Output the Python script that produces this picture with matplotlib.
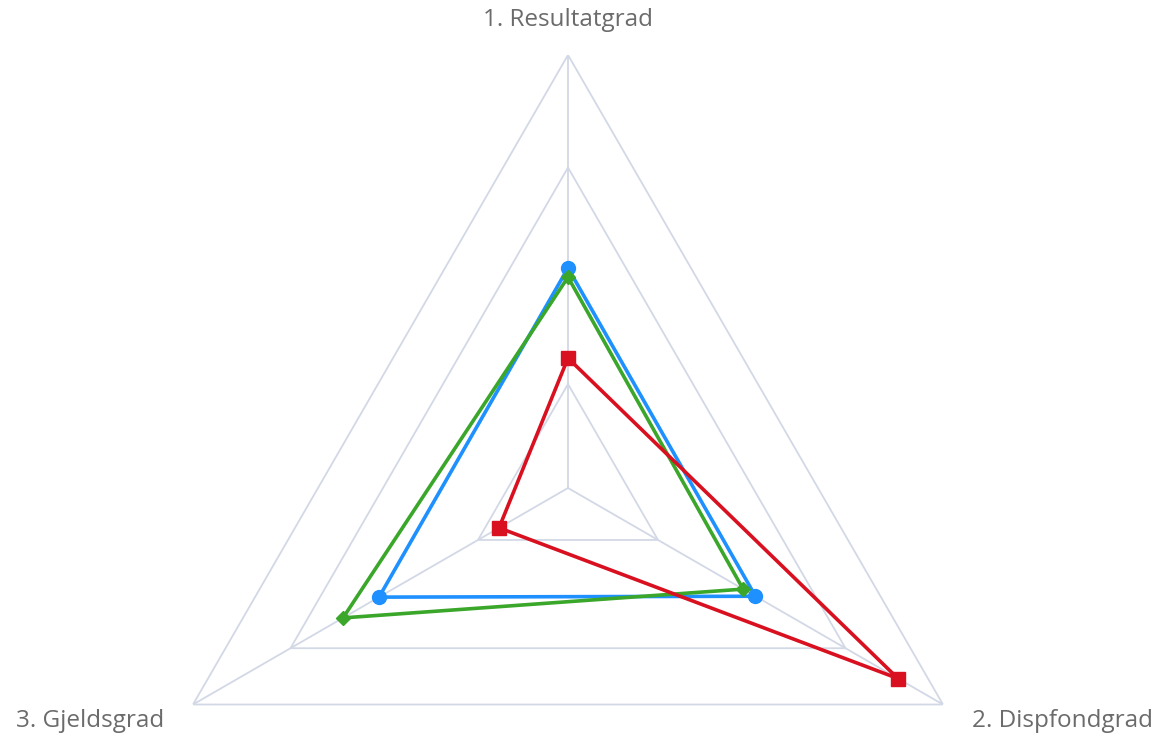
import numpy as np
import matplotlib.pyplot as plt

# axes and series (fraction of the outer ring)
labels = ['1. Resultatgrad', '2. Dispfondgrad', '3. Gjeldsgrad']
blue = [0.508, 0.50, 0.504]
green = [0.487, 0.467, 0.60]
red = [0.30, 0.88, 0.184]
grid_levels = [0.24, 0.74, 1.0]

angles = np.linspace(0, 2 * np.pi, len(labels), endpoint=False)

fig = plt.figure(figsize=(11.58, 7.37), dpi=100)
W, H = 1158, 737
cx, cy, R = 568, 488, 433
ax = fig.add_axes([(cx - R) / W, (H - cy - R) / H, 2 * R / W, 2 * R / H],
                  projection='polar')
ax.set_theta_offset(np.pi / 2)
ax.set_theta_direction(-1)
ax.set_ylim(0, 1)
ax.grid(False)
ax.set_xticks([])
ax.set_yticks([])
ax.spines['polar'].set_visible(False)
ax.patch.set_alpha(0)

grid_col = '#d3d8e6'
closed = np.append(angles, angles[0])
for lv in grid_levels:
    ax.plot(closed, [lv] * 4, color=grid_col, lw=1.3, zorder=1)
for a in angles:
    ax.plot([a, a], [0, 1], color=grid_col, lw=1.3, zorder=1)


def series(vals, color, marker, ms):
    v = list(vals) + [vals[0]]
    ax.plot(closed, v, color=color, lw=2.6, marker=marker, ms=ms,
            markevery=[0, 1, 2], zorder=3, clip_on=False)


series(blue, '#1e90ff', 'o', 10)
series(green, '#3aa62a', 'D', 7)
series(red, '#d9101f', 's', 10)

txt = dict(color='#6b6b6b', fontsize=17.5, family='Open Sans',
           textcoords='offset points', annotation_clip=False)
ax.annotate(labels[0], (angles[0], 1), xytext=(0, 25), ha='center', va='center', **txt)
ax.annotate(labels[1], (angles[1], 1), xytext=(21, -12), ha='left', va='center', **txt)
ax.annotate(labels[2], (angles[2], 1), xytext=(-21, -12), ha='right', va='center', **txt)

fig.savefig('out.png', dpi=100, facecolor='white')
